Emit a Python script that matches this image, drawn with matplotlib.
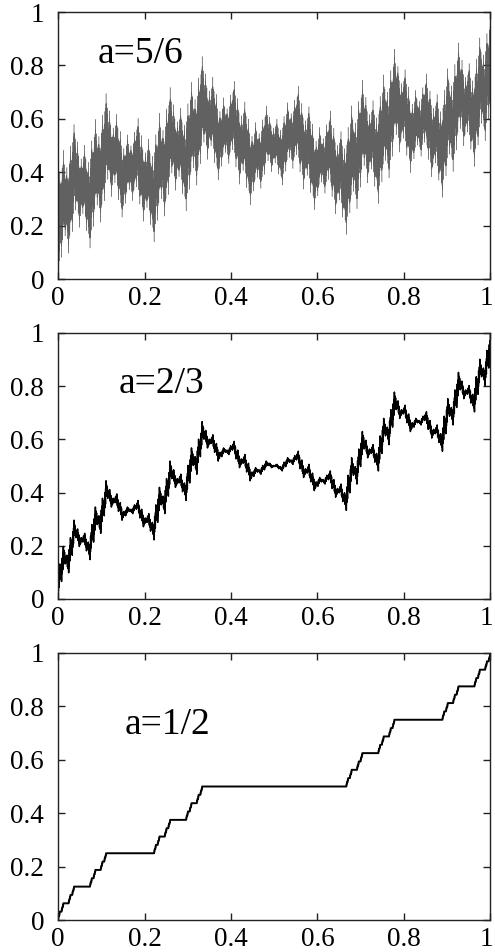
import numpy as np
import matplotlib
matplotlib.use("Agg")
import matplotlib.pyplot as plt
import matplotlib.transforms as mtransforms

# Parameters of the three panels (Okamoto self-affine functions)
a_values = [5/6, 2/3, 1/2]
panel_labels = ["a=5/6", "a=2/3", "a=1/2"]
levels = [9, 8, 8]
line_colors = ["#454545", "black", "black"]
line_widths = [0.3, 1.1, 1.4]
label_pos = [(0.092, 0.845), (0.14, 0.81), (0.155, 0.73)]

x_ticks = [0, 0.2, 0.4, 0.6, 0.8, 1]
x_tick_labels = ["0", "0.2", "0.4", "0.6", "0.8", "1"]
y_ticks = [0, 0.2, 0.4, 0.6, 0.8, 1]
y_tick_labels = ["0", "0.2", "0.4", "0.6", "0.8", "1"]


def okamoto(a, n):
    # nodes of the generator: (0,0), (1/3,a), (2/3,1-a), (1,1)
    gen = np.array([0.0, a, 1.0 - a])
    y = np.array([0.0, 1.0])
    for _ in range(n):
        d = np.diff(y)
        pieces = y[:-1, None] + d[:, None] * gen[None, :]
        y = np.concatenate([pieces.ravel(), [y[-1]]])
    x = np.linspace(0, 1, len(y))
    return x, y


plt.rcParams['font.family'] = ['Liberation Serif', 'DejaVu Serif']

fig = plt.figure(figsize=(4.95, 9.52), dpi=100)
left = 58 / 495
width = (490.5 - 58) / 495
rects = [(279, 267), (599, 266), (920, 267)]

for i, (a, lab) in enumerate(zip(a_values, panel_labels)):
    bot_px, h_px = rects[i]
    ax = fig.add_axes([left, 1 - bot_px / 952, width, h_px / 952])
    x, y = okamoto(a, levels[i])
    ax.plot(x, y, color=line_colors[i], lw=line_widths[i], antialiased=True,
            alpha=0.85 if i == 0 else 1.0)
    ax.set_xlim(0, 1)
    ax.set_ylim(0, 1)
    ax.set_xticks(x_ticks)
    ax.set_xticklabels(x_tick_labels)
    ax.set_yticks(y_ticks)
    ax.set_yticklabels(y_tick_labels)
    ax.tick_params(direction='in', length=5, width=1, top=True, right=True,
                   labelsize=19.5, color='#222222')
    ax.tick_params(axis='x', pad=5)
    ax.tick_params(axis='y', pad=10)
    for s in ax.spines.values():
        s.set_linewidth(1)
        s.set_color('#222222')
    # nudge the last x tick label so it stays inside the figure
    last = ax.get_xticklabels()[-1]
    last.set_transform(last.get_transform() +
                       mtransforms.ScaledTranslation(-4 / 100, 0, fig.dpi_scale_trans))
    ax.text(label_pos[i][0], label_pos[i][1], lab, transform=ax.transAxes,
            fontsize=27, va='center', ha='left')

fig.savefig("out.png", dpi=100)
